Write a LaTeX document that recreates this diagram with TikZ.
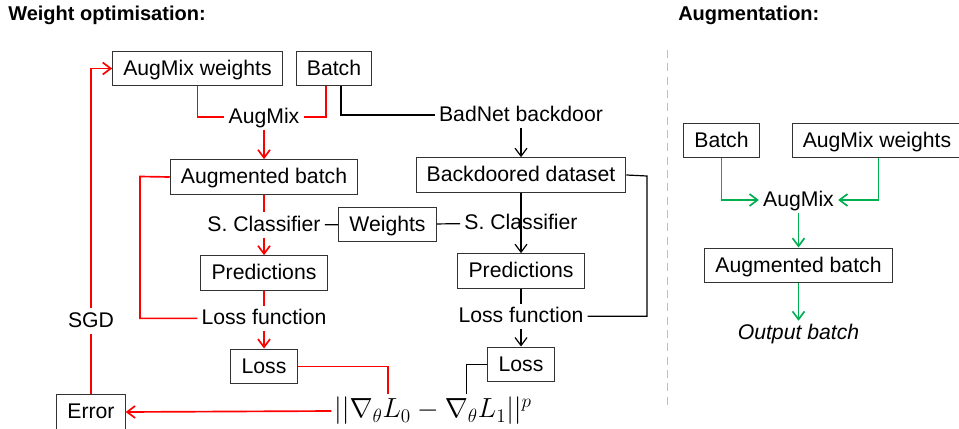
\documentclass[tikz,border=0pt]{standalone}
\usepackage{fontspec}
\setmainfont{Liberation Sans}
\usepackage{tikz}
\usetikzlibrary{arrows.meta, positioning}
\definecolor{augGreen}{RGB}{0,176,80}

\begin{document}
\begin{tikzpicture}[x=0.75pt, y=-0.75pt, node distance=36pt, font=\fontsize{15.9}{18}\selectfont]
    \tikzstyle{box} = [rectangle, draw=black!80, line width=0.75pt, minimum height=26pt, inner xsep=8pt, text height=11pt, text depth=1pt, text centered]
\tikzstyle{txt} = [inner sep=3pt, text height=11pt, text depth=1.5pt]
\tikzstyle{head} = [anchor=west, inner sep=0pt, font=\fontsize{15}{17}\selectfont\bfseries]
\tikzstyle{arrow} = [->, >={Straight Barb[length=6pt,width=9pt]}]
\tikzstyle{redl} = [red, line width=1.25pt]
\tikzstyle{blkl} = [black, line width=0.9pt]
\tikzstyle{grnl} = [augGreen, line width=1.25pt]
    \useasboundingbox (0,0) rectangle (959,428);

\node (head1) [head] at (8,15) {Weight optimisation:};
\node (head2) [head] at (678,15) {Augmentation:};

% weight optimisation, left branch
\node (augw) [box] at (197.5,68.5) {AugMix weights};
\node (batch) [box] at (334,68.5) {Batch};
\node (augmix) [txt] at (264,117) {AugMix};
\node (augbatch) [box, below of=augmix, yshift=-9pt] {Augmented batch};
\node (clf) [txt, below of=augbatch] {S. Classifier};
\node (pred) [box, below of=clf] {Predictions};
\node (lossfn) [txt, below of=pred, yshift=2pt] {Loss function};
\node (loss) [box, below of=lossfn] {Loss};

% right branch
\node (badnet) [txt] at (521,115) {BadNet backdoor};
\node (backdoor) [box, below of=badnet, yshift=-9pt] {Backdoored dataset};
\node (clfb) [txt, below of=backdoor] {S. Classifier};
\node (predb) [box, below of=clfb] {Predictions};
\node (lossfnb) [txt, below of=predb, yshift=2pt] {Loss function};
\node (lossb) [box, below of=lossfnb] {Loss};

\node (weights) [box] at (387.5,224.5) {Weights};
\node (gradnorm) [inner sep=2pt, font=\fontsize{19.5}{22}\selectfont] at (433,411) {$||\nabla_\theta L_0 - \nabla_\theta L_1||^p$};
\node (error) [box] at (91,412) {Error};
\node (sgd) [txt] at (91,321) {SGD};

\coordinate (lp) at (140,176.5);
\coordinate (rp) at (647,176);

% augmentation
\node (batchg) [box] at (721.5,140.5) {Batch};
\node (augwg) [box] at (877,140.5) {AugMix weights};
\node (augmixg) [txt] at (798.5,200) {AugMix};
\node (augbatchg) [box, below of=augmixg, yshift=-13pt] {Augmented batch};
\node (outbatch) [txt, below of=augbatchg, yshift=-15pt] {\itshape Output batch};

\coordinate (septop) at (667,50);
\coordinate (sepbot) at (667,410);

\draw [redl] (augw.south) |- (augmix.west);
\draw [redl] ([xshift=-6pt]batch.south) |- (augmix.east);
\draw [blkl] ([xshift=5.25pt]batch.south) |- (badnet.west);
\draw [redl, arrow] (augmix) -- (augbatch);
\draw [redl] (augbatch) -- (clf);
\draw [redl, arrow] (clf) -- (pred);
\draw [redl] (pred) -- (lossfn);
\draw [redl, arrow] (lossfn) -- (loss);
\draw [redl] (augbatch.west) -- (lp) |- (lossfn.west);
\draw [redl] (loss.east) -| ([xshift=-34pt]gradnorm.north);
\draw [redl, arrow] (gradnorm.west) -- (error.east);
\draw [redl] (error) -- (sgd);
\draw [redl, arrow] (sgd) |- (augw.west);

\draw [blkl] (clf) -- (weights);
\draw [blkl] (weights) -- (clfb);
\draw [blkl, arrow] (badnet) -- (backdoor);
\draw [blkl, arrow] (backdoor) -- (predb);
\draw [blkl] (predb) -- (lossfnb);
\draw [blkl, arrow] (lossfnb) -- (lossb);
\draw [blkl] (backdoor.east) -- (rp) |- (lossfnb.east);
\draw [blkl] (lossb.west) -| ([xshift=25pt]gradnorm.north);

\draw [grnl, arrow] (batchg.south) |- (augmixg.west);
\draw [grnl, arrow] ([xshift=1pt]augwg.south) |- (augmixg.east);
\draw [grnl, arrow] (augmixg) -- (augbatchg);
\draw [grnl, arrow] (augbatchg) -- (outbatch);

\draw [black!25, line width=0.75pt, dash pattern=on 6pt off 4pt] (septop) -- (sepbot);
  \end{tikzpicture}
\end{document}
